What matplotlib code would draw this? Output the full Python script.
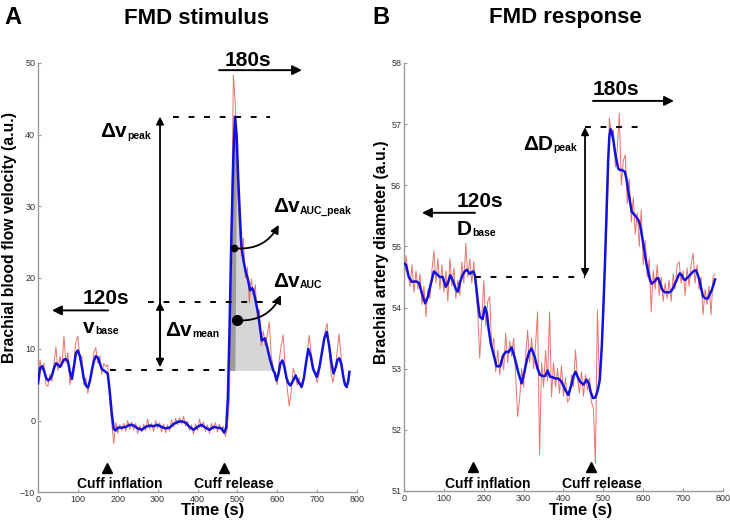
import numpy as np
import matplotlib.pyplot as plt
from matplotlib.patches import FancyArrowPatch

plt.rcParams['font.family'] = ['Liberation Sans', 'DejaVu Sans']

# ---- Panel A: blood flow velocity (raw samples every 5 s) ----
vel_raw_t = np.arange(0, 785, 5)
vel_raw = [
    4.0, 8.5, 7.0, 8.0, 5.0, 4.8, 6.5, 5.5, 8.0, 10.3,
    7.0, 9.0, 7.5, 11.8, 8.0, 9.5, 5.0, 6.5, 8.0, 11.0,
    11.8, 8.5, 9.0, 5.0, 6.0, 3.8, 5.5, 6.5, 9.5, 10.2,
    8.0, 9.0, 6.5, 8.0, 7.5, 7.8, 2.5, -0.5, -3.2, -0.3,
    -1.8, -0.6, -1.4, -0.4, -1.5, 0.0, -1.2, -0.2, -1.3, -0.4,
    -1.8, -0.7, -1.6, -0.5, -1.4, 0.2, -1.2, -0.4, -1.5, 0.0,
    -1.1, -0.3, -1.6, -0.5, -1.7, -0.6, -1.5, 0.1, -0.9, 0.3,
    -0.6, 0.4, -0.5, 0.6, -0.8, -0.1, -1.4, -0.6, -1.9, -0.5,
    -1.4, 0.2, -1.0, -0.2, -1.5, -0.6, -1.8, -0.4, -1.3, -0.3,
    -1.6, -0.5, -1.4, -0.8, -2.2, -1.0, 3.0, 25.0, 48.3, 44.0,
    33.0, 27.0, 23.0, 25.5, 20.0, 21.5, 16.5, 19.8, 17.5, 19.0,
    14.5, 15.5, 10.5, 12.5, 10.5, 12.0, 13.8, 9.0, 7.5, 6.0,
    5.0, 8.5, 10.5, 12.0, 7.0, 4.5, 2.0, 4.0, 7.3, 6.5,
    5.0, 6.0, 4.5, 5.0, 7.0, 9.5, 11.9, 9.5, 7.5, 6.5,
    5.3, 6.5, 8.5, 10.5, 12.5, 13.6, 10.0, 6.5, 5.3, 7.0,
    9.5, 12.1, 9.0, 6.5, 5.2, 4.5, 6.4]

# smoothed velocity
vel_fit_t = [
    0, 5, 10, 15, 20, 25, 30, 35, 40, 45,
    50, 55, 60, 65, 70, 75, 80, 85, 90, 95,
    100, 105, 110, 115, 120, 125, 130, 135, 140, 145,
    150, 155, 160, 165, 170, 175, 180, 185, 190, 195,
    200, 210, 220, 230, 240, 250, 260, 270, 280, 290,
    300, 310, 320, 330, 340, 350, 360, 370, 380, 390,
    400, 410, 420, 430, 440, 450, 460, 467, 472, 476,
    480, 485, 490, 494, 498, 502, 506, 510, 515, 520,
    527, 532, 537, 540, 544, 552, 561, 565, 569, 575,
    582, 590, 594, 598, 603, 608, 613, 618, 623, 628,
    633, 640, 646, 652, 661, 667, 672, 678, 684, 690,
    699, 706, 712, 718, 724, 730, 736, 741, 747, 751,
    756, 761, 766, 770, 774, 778, 781]
vel_fit = [
    5.2, 7.3, 7.6, 7.0, 6.0, 5.6, 5.8, 6.3, 7.3, 8.0,
    7.8, 7.5, 8.0, 8.5, 8.6, 8.3, 6.8, 5.8, 7.5, 9.4,
    9.8, 9.0, 7.5, 5.8, 4.9, 4.6, 5.5, 7.0, 8.3, 9.0,
    8.8, 8.0, 7.2, 7.0, 6.8, 6.5, 4.0, 1.0, -1.2, -1.4,
    -1.0, -1.0, -0.9, -0.6, -0.7, -1.1, -1.3, -0.9, -0.7, -0.8,
    -0.6, -0.9, -1.1, -1.0, -0.5, -0.2, -0.1, -0.3, -0.9, -1.3,
    -0.9, -0.6, -1.0, -1.3, -0.9, -1.0, -1.1, -1.7, -1.0, 3.0,
    12.0, 26.0, 37.0, 42.5, 40.0, 34.0, 29.0, 24.5, 22.5, 21.0,
    19.6, 18.2, 18.5, 18.2, 17.2, 15.0, 11.2, 11.3, 11.5, 10.2,
    8.5, 7.0, 6.6, 5.6, 6.5, 8.0, 8.4, 7.5, 6.0, 5.2,
    4.9, 5.6, 6.3, 5.5, 4.7, 6.0, 8.0, 10.0, 9.0, 7.2,
    6.1, 7.5, 9.5, 11.5, 12.4, 10.5, 8.0, 6.6, 7.5, 8.5,
    8.7, 7.8, 6.0, 5.0, 4.7, 5.5, 6.8]

v_base = 7.0
v_mean = 16.6
v_peak = 42.5

# ---- Panel B: brachial artery diameter ----
dia_raw_t = np.arange(0, 785, 5)
dia_raw = [
    54.40, 54.85, 54.55, 54.35, 54.70, 54.25, 54.60, 54.30, 54.55, 54.05,
    54.35, 53.85, 54.30, 54.15, 54.60, 54.93, 54.40, 54.80, 54.30, 54.70,
    54.25, 54.60, 54.10, 54.80, 54.35, 54.65, 54.15, 54.45, 54.20, 54.75,
    54.40, 55.05, 54.50, 54.80, 54.40, 54.75, 54.30, 53.90, 53.17, 53.80,
    54.45, 53.70, 54.10, 54.18, 53.30, 53.50, 52.95, 53.30, 52.90, 53.20,
    52.98, 53.58, 53.10, 53.45, 53.20, 53.50, 52.90, 52.22, 52.50, 53.00,
    52.70, 53.20, 53.63, 53.10, 53.50, 53.00, 53.40, 53.93, 51.59, 53.10,
    52.70, 53.30, 52.80, 53.93, 52.54, 53.10, 52.70, 53.00, 52.60, 53.05,
    52.55, 52.85, 52.45, 52.52, 52.90, 52.70, 53.31, 52.85, 52.60, 52.95,
    52.55, 52.90, 52.65, 52.85, 52.45, 52.36, 51.45, 53.96, 52.80, 53.30,
    54.10, 54.80, 55.60, 57.10, 56.80, 56.90, 56.30, 56.60, 57.18, 56.00,
    56.40, 56.50, 55.70, 56.10, 55.40, 55.80, 55.20, 55.55, 55.00, 55.60,
    54.70, 55.10, 54.50, 54.80, 53.93, 54.60, 54.30, 54.70, 54.20, 54.50,
    54.10, 54.40, 54.15, 54.45, 54.10, 54.55, 54.30, 54.70, 54.75, 54.40,
    54.60, 54.20, 54.65, 54.35, 54.70, 54.89, 54.40, 54.70, 54.30, 54.50,
    53.88, 54.30, 54.05, 54.35, 53.88, 54.50, 54.55]

dia_fit_t = [
    0, 5, 12, 20, 30, 38, 45, 53, 60, 67,
    75, 82, 90, 97, 105, 110, 116, 122, 130, 135,
    140, 146, 152, 158, 165, 170, 174, 178, 182, 186,
    190, 197, 203, 208, 212, 218, 224, 232, 241, 249,
    256, 262, 270, 278, 287, 295, 302, 308, 314, 320,
    328, 335, 341, 348, 354, 360, 366, 373, 379, 387,
    395, 404, 412, 420, 425, 430, 436, 441, 450, 458,
    464, 468, 474, 480, 486, 491, 496, 500, 504, 508,
    512, 515, 518, 521, 525, 529, 533, 537, 541, 547,
    554, 558, 562, 567, 571, 579, 588, 592, 596, 600,
    604, 608, 613, 617, 621, 625, 629, 634, 638, 642,
    646, 650, 655, 661, 667, 671, 675, 680, 684, 688,
    692, 697, 701, 705, 709, 713, 717, 721, 727, 732,
    736, 741, 745, 750, 756, 762, 767, 772, 776, 780]
dia_fit = [
    54.72, 54.70, 54.50, 54.42, 54.43, 54.40, 54.23, 54.07, 54.18, 54.38,
    54.59, 54.55, 54.50, 54.50, 54.34, 54.40, 54.53, 54.45, 54.30, 54.26,
    54.40, 54.52, 54.59, 54.62, 54.55, 54.58, 54.59, 54.52, 54.29, 54.05,
    53.85, 53.81, 54.01, 53.90, 53.66, 53.40, 53.25, 53.04, 53.04, 53.22,
    53.28, 53.27, 53.35, 53.17, 52.93, 52.76, 52.95, 53.14, 53.28, 53.33,
    53.19, 53.00, 52.90, 52.88, 52.88, 52.97, 52.87, 52.86, 52.84, 52.84,
    52.79, 52.66, 52.57, 52.74, 52.88, 52.95, 52.86, 52.79, 52.74, 52.82,
    52.75, 52.62, 52.52, 52.53, 52.65, 52.82, 53.36, 54.00, 54.73, 55.55,
    56.41, 56.80, 56.92, 56.88, 56.74, 56.55, 56.41, 56.28, 56.25, 56.25,
    56.22, 56.10, 55.92, 55.72, 55.57, 55.51, 55.43, 55.35, 55.21, 55.05,
    54.89, 54.72, 54.57, 54.45, 54.39, 54.41, 54.43, 54.48, 54.48, 54.40,
    54.32, 54.27, 54.25, 54.25, 54.25, 54.28, 54.32, 54.40, 54.45, 54.52,
    54.56, 54.52, 54.47, 54.45, 54.48, 54.50, 54.53, 54.56, 54.60, 54.61,
    54.55, 54.45, 54.32, 54.18, 54.15, 54.15, 54.22, 54.29, 54.37, 54.46]

d_base = 54.5
d_peak = 56.95

cuff_inflation_t = 174
cuff_release_t = 467

raw_color = '#e2453b'
fit_color = '#1212dd'

fig = plt.figure(figsize=(7.3, 5.2), dpi=100)
axA = fig.add_axes([38/730, 28/520, 319/730, 429/520])
axB = fig.add_axes([404/730, 29/520, 319/730, 428/520])


def style_axis(ax):
    for s in ['top', 'right']:
        ax.spines[s].set_visible(False)
    for s in ['left', 'bottom']:
        ax.spines[s].set_color('#9a9a9a')
        ax.spines[s].set_linewidth(1.0)
    ax.tick_params(direction='in', length=2.5, width=0.8, color='#9a9a9a',
                   labelsize=6.5, labelcolor='#333333', pad=2)
    ax.set_xlim(0, 800)
    ax.set_xticks(range(0, 801, 100))


def bold(ax, x, y, s, size=15, **kw):
    return ax.text(x, y, s, fontsize=size, fontweight='bold', color='k',
                   va='baseline', clip_on=False, **kw)


# big symbol with a small bold subscript hung on its lower right corner
def sub_label(ax, x, y, main, sub):
    t = bold(ax, x, y, main, ha='left')
    ax.annotate(sub, xy=(1, 0), xycoords=t, xytext=(0.5, 0.5), textcoords='offset points',
                ha='left', va='bottom', fontsize=7.5, fontweight='bold', color='k')


# ---------------- Panel A ----------------
ax = axA
style_axis(ax)
ax.set_ylim(-10, 50)
ax.set_yticks(range(-10, 51, 10))

t_fit = np.array(vel_fit_t)
v_fit = np.array(vel_fit)
ax.fill_between(t_fit, v_fit, v_base, where=(t_fit >= 494) & (t_fit <= 600) & (v_fit >= v_base),
                interpolate=True, color='#d6d6d6', lw=0, zorder=1)
ax.fill_between(t_fit, v_fit, v_base, where=(t_fit >= 478) & (t_fit <= 494) & (v_fit >= v_base),
                interpolate=True, color='#9c9c9c', lw=0, zorder=1)

ax.plot(vel_raw_t, vel_raw, color=raw_color, lw=0.7, alpha=0.75, zorder=2)
ax.plot(vel_fit_t, vel_fit, color=fit_color, lw=1.8, zorder=3)

dash = dict(color='k', lw=1.4, ls=(0, (3, 5)), zorder=4)
ax.plot([339, 582], [v_peak, v_peak], **dash)
ax.plot([276, 602], [v_mean, v_mean], **dash)
ax.plot([180, 474], [v_base, v_base], **dash)

arr = dict(arrowstyle='<|-|>', color='k', lw=1.3, mutation_scale=11, shrinkA=0, shrinkB=0)
ax.annotate('', xy=(306, v_peak), xytext=(306, v_base + 0.5), arrowprops=arr)
ax.annotate('', xy=(306, v_mean), xytext=(306, v_base + 0.5), arrowprops=arr)

one = dict(arrowstyle='-|>', color='k', lw=1.4, mutation_scale=14, shrinkA=0, shrinkB=0)
ax.annotate('', xy=(662, 49.0), xytext=(454, 49.0), arrowprops=one, annotation_clip=False)
bold(ax, 527, 49.6, '180s', ha='center')
ax.annotate('', xy=(35, 15.4), xytext=(176, 15.4), arrowprops=one)
bold(ax, 171, 16.3, '120s', ha='center')
sub_label(ax, 113, 12.3, 'v', 'base')

sub_label(ax, 155, 39.6, 'Δv', 'peak')
sub_label(ax, 318, 11.8, 'Δv', 'mean')
sub_label(ax, 589, 29.1, 'Δv', 'AUC_peak')
sub_label(ax, 589, 18.7, 'Δv', 'AUC')

ax.plot([491], [24.1], 'o', color='k', ms=4.5, zorder=6)
ax.add_patch(FancyArrowPatch((491, 24.1), (607, 27.7), connectionstyle='arc3,rad=0.35',
                             arrowstyle='-|>', mutation_scale=12, color='k', lw=1.3, zorder=6))
ax.plot([499], [14.0], 'o', color='k', ms=7, zorder=6)
ax.add_patch(FancyArrowPatch((499, 14.0), (612, 17.9), connectionstyle='arc3,rad=0.35',
                             arrowstyle='-|>', mutation_scale=12, color='k', lw=1.3, zorder=6))

ax.plot([cuff_inflation_t, cuff_release_t], [-6.7, -6.7], '^', color='k', ms=6.5, zorder=6)
bold(ax, 206, -9.4, 'Cuff inflation', size=10, ha='center')
bold(ax, 491, -9.4, 'Cuff release', size=10, ha='center')

# ---------------- Panel B ----------------
ax = axB
style_axis(ax)
ax.set_ylim(51, 58)
ax.set_yticks(range(51, 59))

ax.plot(dia_raw_t, dia_raw, color=raw_color, lw=0.7, alpha=0.75, zorder=2)
ax.plot(dia_fit_t, dia_fit, color=fit_color, lw=1.8, zorder=3)

ax.plot([454, 599], [d_peak, d_peak], **dash)
ax.plot([178, 454], [d_base, d_base], **dash)
ax.annotate('', xy=(454, d_peak), xytext=(454, d_base), arrowprops=arr)

ax.annotate('', xy=(677, 57.38), xytext=(474, 57.38), arrowprops=one)
bold(ax, 532, 57.48, '180s', ha='center')
ax.annotate('', xy=(45, 55.55), xytext=(178, 55.55), arrowprops=one)
bold(ax, 191, 55.65, '120s', ha='center')
sub_label(ax, 133, 55.19, 'D', 'base')
sub_label(ax, 298, 56.58, 'ΔD', 'peak')

ax.plot([cuff_inflation_t, cuff_release_t + 2], [51.39, 51.39], '^', color='k', ms=6.5, zorder=6)
bold(ax, 211, 51.05, 'Cuff inflation', size=10, ha='center')
bold(ax, 497, 51.05, 'Cuff release', size=10, ha='center')

# ---------------- labels ----------------
fig.text(4/730, 1 - 18/520, 'A', fontsize=17, fontweight='bold', va='center')
fig.text(372/730, 1 - 18/520, 'B', fontsize=17, fontweight='bold', va='center')
fig.text(197/730, 1 - 18/520, 'FMD stimulus', fontsize=16, fontweight='bold', ha='center', va='center')
fig.text(565/730, 1 - 18/520, 'FMD response', fontsize=16, fontweight='bold', ha='center', va='center')

fig.text(10/730, 1 - 238/520, 'Brachial blood flow velocity (a.u.)', rotation=90,
         fontsize=11.3, fontweight='bold', ha='center', va='center')
fig.text(382/730, 1 - 252/520, 'Brachial artery diameter (a.u.)', rotation=90,
         fontsize=11.3, fontweight='bold', ha='center', va='center')
fig.text(213/730, 1 - 510/520, 'Time (s)', fontsize=12, fontweight='bold', ha='center', va='center')
fig.text(581/730, 1 - 510/520, 'Time (s)', fontsize=12, fontweight='bold', ha='center', va='center')

fig.savefig('out.png', dpi=100)
